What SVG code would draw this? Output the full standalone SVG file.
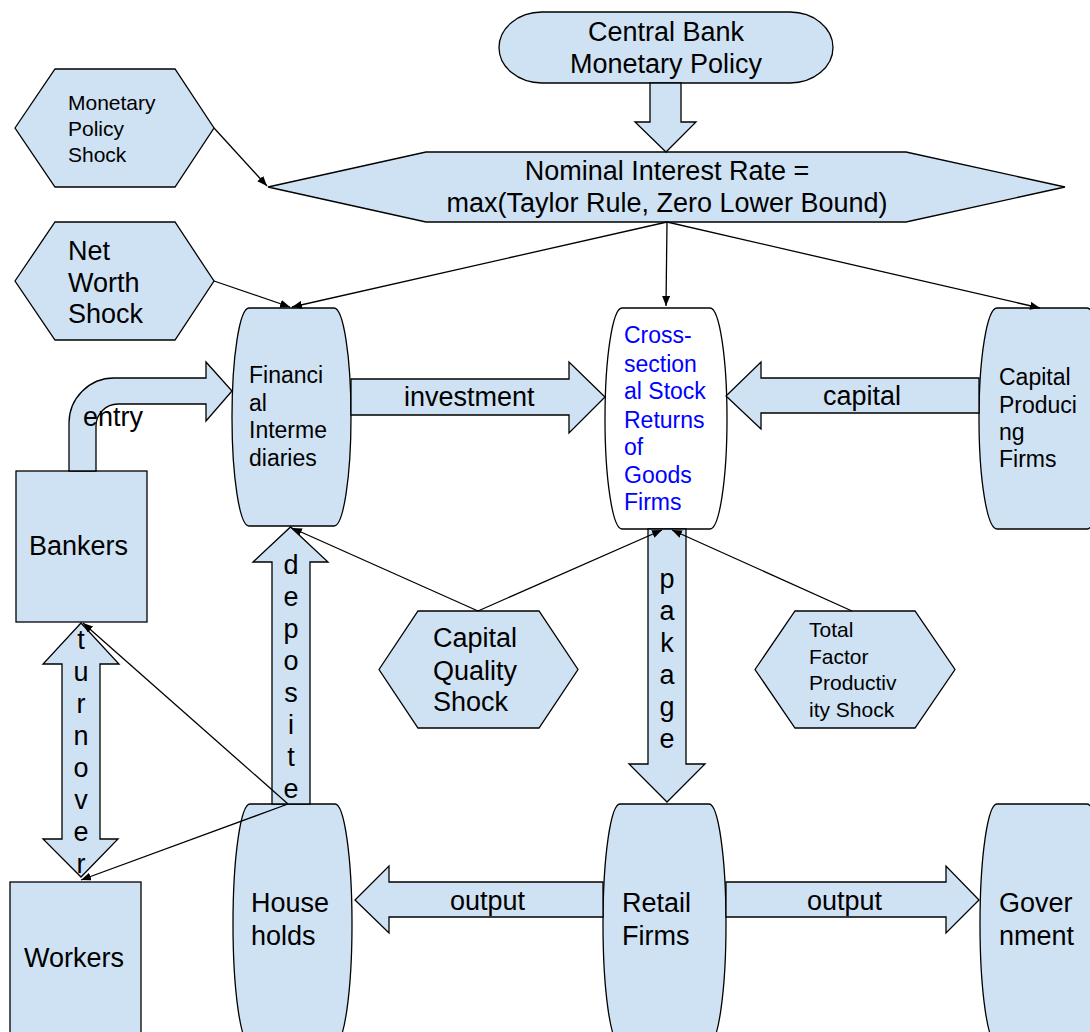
<svg xmlns="http://www.w3.org/2000/svg" width="1090" height="1032" viewBox="0 0 1090 1032">
<style>
.node{fill:#cfe2f3;stroke:#000;stroke-width:1.3}
.wnode{fill:#fff;stroke:#000;stroke-width:1.3}
.t{font-family:"Liberation Sans",Arial,sans-serif;fill:#000}
.f27{font-size:27px}
.f23{font-size:23px}
.f21{font-size:21px}
.blue{fill:#0000ff}
.mid{text-anchor:middle}
.line{stroke:#000;stroke-width:1.3;fill:none;marker-end:url(#ah)}
.barrow{fill:#cfe2f3;stroke:#000;stroke-width:1.3}
</style>
<defs>
<marker id="ah" markerWidth="10" markerHeight="8" refX="10" refY="4" orient="auto" markerUnits="userSpaceOnUse"><path d="M0,0 L10,4 L0,8 Z" fill="#000"/></marker>
</defs>
<rect width="1090" height="1032" fill="#fff"/>

<g id="central-bank">
<path class="node" d="M542,12 H790 A43 35.5 0 0 1 790,83 H542 A43 35.5 0 0 1 542,12 Z"/>
<text class="t f27 mid" x="666" y="41">Central Bank</text>
<text class="t f27 mid" x="666" y="73">Monetary Policy</text>
</g>

<g id="monetary-policy-shock">
<polygon class="node" points="15,128 55,69 175,69 214,128 175,187 55,187"/>
<text class="t f21" x="68" y="110">Monetary</text>
<text class="t f21" x="68" y="136">Policy</text>
<text class="t f21" x="68" y="162">Shock</text>
</g>

<g id="nominal-rate">
<polygon class="node" points="268,187 426,152 906,152 1065,187 906,222 426,222"/>
<text class="t f27 mid" x="667" y="180">Nominal Interest Rate =</text>
<text class="t f27 mid" x="667" y="212">max(Taylor Rule, Zero Lower Bound)</text>
</g>

<g id="net-worth-shock">
<polygon class="node" points="15,281 55,222 175,222 214,281 175,340 55,340"/>
<text class="t f27" x="68" y="260">Net</text>
<text class="t f27" x="68" y="292">Worth</text>
<text class="t f27" x="68" y="323">Shock</text>
</g>

<g id="financial-intermediaries">
<path class="node" d="M249,308 H334 A17 109 0 0 1 334,526 H249 A17 109 0 0 1 249,308 Z"/>
<text class="t f23" x="249" y="383">Financi</text>
<text class="t f23" x="249" y="411">al</text>
<text class="t f23" x="249" y="438">Interme</text>
<text class="t f23" x="249" y="466">diaries</text>
</g>

<g id="cross-section">
<path class="wnode" d="M622,308 H710 A17 110.5 0 0 1 710,529 H622 A17 110.5 0 0 1 622,308 Z"/>
<text class="t f23 blue" x="624" y="343">Cross-</text>
<text class="t f23 blue" x="624" y="372">section</text>
<text class="t f23 blue" x="624" y="399">al Stock</text>
<text class="t f23 blue" x="624" y="428">Returns</text>
<text class="t f23 blue" x="624" y="455">of</text>
<text class="t f23 blue" x="624" y="483">Goods</text>
<text class="t f23 blue" x="624" y="510">Firms</text>
</g>

<g id="capital-producing-firms">
<path class="node" d="M997,308 H1087 A18 110.5 0 0 1 1087,529 H997 A18 110.5 0 0 1 997,308 Z"/>
<text class="t f23" x="999" y="385">Capital</text>
<text class="t f23" x="999" y="413">Produci</text>
<text class="t f23" x="999" y="440">ng</text>
<text class="t f23" x="999" y="467">Firms</text>
</g>

<g id="bankers">
<rect class="node" x="16" y="471" width="131" height="151"/>
<text class="t f27" x="29" y="555">Bankers</text>
</g>

<g id="capital-quality-shock">
<polygon class="node" points="379,669.5 418,611 539,611 578,669.5 539,728 418,728"/>
<text class="t f27" x="433" y="647">Capital</text>
<text class="t f27" x="433" y="680">Quality</text>
<text class="t f27" x="433" y="711">Shock</text>
</g>

<g id="tfp-shock">
<polygon class="node" points="755,669.5 795,611 915,611 955,669.5 915,728 795,728"/>
<text class="t f21" x="809" y="637">Total</text>
<text class="t f21" x="809" y="664">Factor</text>
<text class="t f21" x="809" y="690">Productiv</text>
<text class="t f21" x="809" y="717">ity Shock</text>
</g>

<g id="workers">
<rect class="node" x="10" y="882" width="131" height="170"/>
<text class="t f27" x="24" y="967">Workers</text>
</g>

<g id="households">
<path class="node" d="M250,804 H335 A17 120 0 0 1 335,1044 H250 A17 120 0 0 1 250,804 Z"/>
<text class="t f27" x="251" y="912">House</text>
<text class="t f27" x="251" y="945">holds</text>
</g>

<g id="retail-firms">
<path class="node" d="M620,804 H709 A17 120 0 0 1 709,1044 H620 A17 120 0 0 1 620,804 Z"/>
<text class="t f27" x="622" y="912">Retail</text>
<text class="t f27" x="622" y="945">Firms</text>
</g>

<g id="government">
<path class="node" d="M997,804 H1087 A17 120 0 0 1 1087,1044 H997 A17 120 0 0 1 997,804 Z"/>
<text class="t f27" x="999" y="912">Gover</text>
<text class="t f27" x="999" y="945">nment</text>
</g>

<g id="connectors">
<path class="barrow" d="M650,83 V122 H635 L666,152 L696,122 H681 V83 Z"/>
<path class="barrow" d="M69,471 V423 A45 45 0 0 1 114,378 H206 V362 L232,391 L206,421 V404 H118 A22 22 0 0 0 96,426 V471 Z"/>
<path class="barrow" d="M351,379 H569 V362 L605,397 L569,433 V415 H351 Z"/>
<path class="barrow" d="M979,378 H761 V362 L726,396 L761,429 V413 H979 Z"/>
<path class="barrow" d="M272,804 V562 H253 L290.5,527 L328,562 H310 V804 Z"/>
<path class="barrow" d="M648,529 V764 H629 L667,802 L705,764 H686 V529 Z"/>
<path class="barrow" d="M62,664 H43 L81,623 L119,664 H100 V839 H118 L81,877 L43,839 H62 Z"/>
<path class="barrow" d="M603,882 H389 V866 L355,900 L389,933 V917 H603 Z"/>
<path class="barrow" d="M726,882 H946 V866 L979,900 L946,933 V917 H726 Z"/>

<line class="line" x1="214" y1="128" x2="267" y2="186"/>
<line class="line" x1="214" y1="281" x2="290" y2="307"/>
<line class="line" x1="667" y1="222" x2="292" y2="307"/>
<line class="line" x1="667" y1="222" x2="666" y2="306"/>
<line class="line" x1="667" y1="222" x2="1040" y2="308"/>
<line class="line" x1="478" y1="611" x2="292" y2="528"/>
<line class="line" x1="478" y1="611" x2="662" y2="530"/>
<line class="line" x1="852" y1="611" x2="672" y2="530"/>
<line class="line" x1="288" y1="804" x2="83" y2="623"/>
<line class="line" x1="288" y1="804" x2="81" y2="880"/>

<text class="t f27" x="83" y="426">entry</text>
<text class="t f27" x="404" y="406">investment</text>
<text class="t f27" x="823" y="405">capital</text>
<text class="t f27" x="450" y="910">output</text>
<text class="t f27" x="807" y="910">output</text>
<g class="t f27 mid">
<text x="81" y="649">t</text><text x="81" y="681">u</text><text x="81" y="713">r</text><text x="81" y="745">n</text><text x="81" y="777">o</text><text x="81" y="809">v</text><text x="81" y="841">e</text><text x="81" y="873">r</text>
<text x="291" y="574">d</text><text x="291" y="606">e</text><text x="291" y="638">p</text><text x="291" y="670">o</text><text x="291" y="702">s</text><text x="291" y="734">i</text><text x="291" y="766">t</text><text x="291" y="798">e</text>
<text x="667" y="588">p</text><text x="667" y="620">a</text><text x="667" y="652">k</text><text x="667" y="684">a</text><text x="667" y="716">g</text><text x="667" y="748">e</text>
</g>
</g>
</svg>
